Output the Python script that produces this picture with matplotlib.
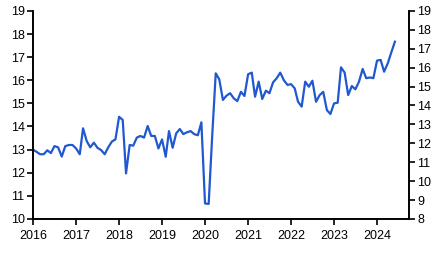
import matplotlib
matplotlib.use('Agg')
import matplotlib.pyplot as plt
import matplotlib.dates as mdates
import numpy as np
import pandas as pd

plt.rcParams['font.family'] = ['Liberation Sans', 'DejaVu Sans']

# monthly values, Jan 2016 - Jun 2024
vals_2016 = [13.0, 12.9, 12.8, 12.8, 12.97, 12.85, 13.15, 13.1, 12.7, 13.15, 13.2, 13.2]
vals_2017 = [13.05, 12.8, 13.92, 13.37, 13.1, 13.3, 13.08, 12.98, 12.8, 13.1, 13.35, 13.44]
vals_2018 = [14.42, 14.28, 11.97, 13.2, 13.17, 13.52, 13.59, 13.52, 14.02, 13.59, 13.59, 13.05]
vals_2019 = [13.44, 12.69, 13.8, 13.08, 13.7, 13.89, 13.67, 13.75, 13.8, 13.67, 13.62, 14.18]
vals_2020 = [10.67, 10.65, 13.5, 16.3, 16.04, 15.15, 15.33, 15.44, 15.22, 15.1, 15.5, 15.32]
vals_2021 = [16.26, 16.33, 15.29, 15.94, 15.19, 15.55, 15.44, 15.91, 16.09, 16.33, 16.0, 15.8]
vals_2022 = [15.83, 15.65, 15.07, 14.86, 15.94, 15.72, 15.98, 15.07, 15.36, 15.5, 14.71, 14.54]
vals_2023 = [15.0, 15.03, 16.56, 16.33, 15.36, 15.75, 15.61, 15.94, 16.49, 16.09, 16.12, 16.09]
vals_2024 = [16.85, 16.88, 16.37, 16.73, 17.2, 17.67]

values = (vals_2016 + vals_2017 + vals_2018 + vals_2019 + vals_2020 +
          vals_2021 + vals_2022 + vals_2023 + vals_2024)
dates = pd.date_range('2016-01-01', periods=len(values), freq='MS')

left_ticks = np.arange(10, 20)
right_ticks = np.arange(8, 20)
year_ticks = pd.date_range('2016-01-01', '2024-01-01', freq='YS')

fig = plt.figure(figsize=(4.45, 2.54), dpi=100)
ax = fig.add_axes([0.0742, 0.138, 0.845, 0.819])
ax.plot(dates, values, color='#2058d0', lw=1.6)

ax.set_ylim(10, 19)
ax.set_yticks(left_ticks)
ax.set_xlim(pd.Timestamp('2016-01-01'), pd.Timestamp('2024-09-29'))
ax.set_xticks(year_ticks)
ax.xaxis.set_major_formatter(mdates.DateFormatter('%Y'))

ax2 = ax.twinx()
ax2.set_ylim(8, 19)
ax2.set_yticks(right_ticks)

for a in (ax, ax2):
    a.spines['top'].set_visible(False)
    for s in a.spines.values():
        s.set_linewidth(1.2)
    a.tick_params(length=4, width=1.2, labelsize=9, pad=2)
ax.tick_params(axis='x', pad=4)

fig.savefig('out.png', dpi=100)
